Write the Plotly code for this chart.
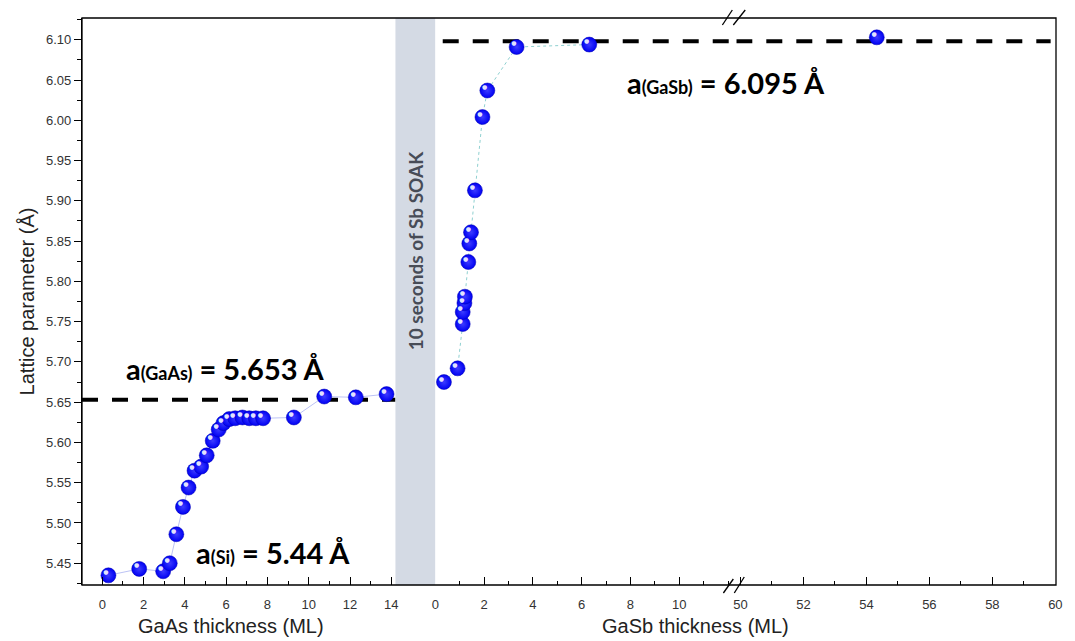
import plotly.graph_objects as go

# ---------------- data ----------------
gaas_x = [0.30, 1.79, 2.95, 3.27, 3.59, 3.91, 4.18, 4.47, 4.79, 5.06, 5.35, 5.64,
          5.87, 6.15, 6.44, 6.79, 7.12, 7.44, 7.79, 9.28, 10.75, 12.28, 13.77]
gaas_y = [5.435, 5.443, 5.440, 5.450, 5.486, 5.520, 5.544, 5.565, 5.570, 5.584,
          5.602, 5.616, 5.624, 5.629, 5.630, 5.631, 5.630, 5.630, 5.630, 5.631,
          5.657, 5.656, 5.660]

gasb_x = [0.35, 0.91, 1.12, 1.12, 1.19, 1.21, 1.35, 1.39, 1.46, 1.62, 1.93, 2.13, 3.33, 6.31]
gasb_y = [5.675, 5.692, 5.747, 5.762, 5.773, 5.781, 5.824, 5.847, 5.861, 5.913,
          6.004, 6.037, 6.091, 6.094]

gasb_far_x = [54.33]
gasb_far_y = [6.103]

a_gaas = 5.653          # GaAs reference lattice parameter line
a_gasb = 6.098          # GaSb reference line (labelled 6.095 Å)
gaas_ref_x = [-0.98, 14.2]
gasb_ref_x = [0.3, 12.34]
gasb_far_ref_x = [49.87, 59.85]

gaas_ticks = [0, 2, 4, 6, 8, 10, 12, 14]
gasb_ticks = [0, 2, 4, 6, 8, 10]
gasb_far_ticks = [50, 52, 54, 56, 58, 60]

# ---------------- layout geometry (pixels) ----------------
W, H = 1075, 641
L, R, T, B = 82, 12, 18, 56
PW = W - L - R
PH = H - T - B


def px(xp):
    return (xp - L) / PW


def py(yp):
    return (H - B - yp) / PH


d1 = [0, px(397.7)]
d2 = [px(437.7), px(741)]
d3 = [px(741), 1.0]

TICK_FONT = dict(family="Liberation Sans, Arial, sans-serif", size=13, color="#333333")
ANNOT_FONT = "Lato, Open Sans, sans-serif"

marker = dict(size=15, color="#0000f2",
              gradient=dict(type="radial", color="#3c3cff"),
              line=dict(width=0.5, color="#0000b0"))
highlight_font = dict(family="DejaVu Sans", size=6, color="rgba(255,255,255,0.9)")

fig = go.Figure()

# dashed reference lines
dash_line = dict(color="black", width=4, dash="16px,14px")
fig.add_trace(go.Scatter(x=gaas_ref_x, y=[a_gaas, a_gaas], mode="lines", xaxis="x", yaxis="y",
                         line=dash_line, showlegend=False, hoverinfo="skip"))
fig.add_trace(go.Scatter(x=gasb_ref_x, y=[a_gasb, a_gasb], mode="lines", xaxis="x2", yaxis="y",
                         line=dash_line, showlegend=False, hoverinfo="skip"))
fig.add_trace(go.Scatter(x=gasb_far_ref_x, y=[a_gasb, a_gasb], mode="lines", xaxis="x3", yaxis="y",
                         line=dash_line, showlegend=False, hoverinfo="skip"))

# connecting lines + sphere markers
fig.add_trace(go.Scatter(x=gaas_x, y=gaas_y, mode="lines+markers", xaxis="x", yaxis="y",
                         line=dict(color="#bcc3f5", width=1), marker=marker,
                         showlegend=False))
fig.add_trace(go.Scatter(x=gasb_x, y=gasb_y, mode="lines+markers", xaxis="x2", yaxis="y",
                         line=dict(color="#8fd0d0", width=1, dash="dot"), marker=marker,
                         showlegend=False))
fig.add_trace(go.Scatter(x=gasb_far_x, y=gasb_far_y, mode="markers", xaxis="x3", yaxis="y",
                         marker=marker, showlegend=False))

# sphere highlights
for xs, ys, ax in [(gaas_x, gaas_y, "x"), (gasb_x, gasb_y, "x2"), (gasb_far_x, gasb_far_y, "x3")]:
    fig.add_trace(go.Scatter(x=xs, y=ys, mode="text", text=["●"] * len(xs),
                             textposition="top left", textfont=highlight_font,
                             xaxis=ax, yaxis="y", showlegend=False, hoverinfo="skip"))

xcommon = dict(showgrid=False, zeroline=False, showline=False, ticks="inside",
               ticklen=8, tickwidth=1.2, tickcolor="black", tickfont=TICK_FONT,
               anchor="y", fixedrange=True, ticklabelstandoff=10)
minor_x = dict(dtick=1, tick0=1, ticks="inside", ticklen=4, tickcolor="black")

fig.update_layout(
    width=W, height=H, autosize=False,
    margin=dict(l=L, r=R, t=T, b=B, pad=0),
    paper_bgcolor="white", plot_bgcolor="white",
    xaxis=dict(domain=d1, range=[-0.98, 14.2], tickvals=gaas_ticks, minor=minor_x, **xcommon),
    xaxis2=dict(domain=d2, range=[-0.01, 12.34], tickvals=gasb_ticks, minor=minor_x, **xcommon),
    xaxis3=dict(domain=d3, range=[49.87, 60.02], tickvals=gasb_far_ticks, minor=minor_x, **xcommon),
    yaxis=dict(range=[5.423, 6.127], dtick=0.05, tick0=5.45, tickformat=".2f",
               showgrid=False, zeroline=False, showline=True, linecolor="black", linewidth=1.3,
               ticks="outside", ticklen=7, tickwidth=1.2, tickcolor="black",
               minor=dict(dtick=0.025, tick0=5.425, ticks="outside", ticklen=4, tickcolor="black"),
               tickfont=TICK_FONT, fixedrange=True,
               title=dict(text="Lattice parameter (Å)", standoff=5,
                          font=dict(family="Liberation Sans, Arial, sans-serif", size=20,
                                    color="#222222"))),
)

shapes = []
# Sb soak band
shapes.append(dict(type="rect", xref="paper", yref="paper", x0=d1[1], x1=d2[0], y0=0, y1=1,
                   fillcolor="#d4dae4", line=dict(width=0), layer="below"))
# frame
shapes.append(dict(type="rect", xref="paper", yref="paper", x0=0, x1=1, y0=0, y1=1,
                   line=dict(color="black", width=1.3), layer="above"))
# axis break marks (bottom & top)
for (xa, ya, xb, yb) in [(728, 593, 738, 579), (739, 593, 749, 577),
                         (727, 25, 737, 10), (738, 25, 750, 10)]:
    shapes.append(dict(type="line", xref="paper", yref="paper",
                       x0=px(xa), y0=py(ya), x1=px(xb), y1=py(yb),
                       line=dict(color="black", width=1.3)))
fig.update_layout(shapes=shapes)

big = 29
small = 18
annots = [
    dict(text=f"<b>a<span style='font-size:{small}px'>(GaAs)</span> = 5.653 Å</b>",
         x=px(124), y=py(368), xanchor="left", yanchor="middle"),
    dict(text=f"<b>a<span style='font-size:{small}px'>(Si)</span> = 5.44 Å</b>",
         x=px(195), y=py(552), xanchor="left", yanchor="middle"),
    dict(text=f"<b>a<span style='font-size:{small}px'>(GaSb)</span> = 6.095 Å</b>",
         x=px(629), y=py(82), xanchor="left", yanchor="middle"),
]
for a in annots:
    fig.add_annotation(xref="paper", yref="paper", showarrow=False,
                       font=dict(family=ANNOT_FONT, size=big, color="black"), **a)

fig.add_annotation(xref="paper", yref="paper", x=(d1[1] + d2[0]) / 2, y=py(250),
                   text="<b>10 seconds of Sb SOAK</b>", textangle=-90, showarrow=False,
                   font=dict(family=ANNOT_FONT, size=19, color="#474c57"),
                   xanchor="center", yanchor="middle")

fig.add_annotation(xref="paper", yref="paper", x=px(232), y=py(626),
                   text="GaAs thickness (ML)", showarrow=False,
                   font=dict(family="Liberation Sans, Arial, sans-serif", size=20, color="#222222"),
                   xanchor="center", yanchor="middle")
fig.add_annotation(xref="paper", yref="paper", x=px(700), y=py(626),
                   text="GaSb thickness (ML)", showarrow=False,
                   font=dict(family="Liberation Sans, Arial, sans-serif", size=20, color="#222222"),
                   xanchor="center", yanchor="middle")

fig.write_html("out.html", config={"displayModeBar": False},
               post_script="document.body.style.margin='0';document.body.style.overflow='hidden';")
